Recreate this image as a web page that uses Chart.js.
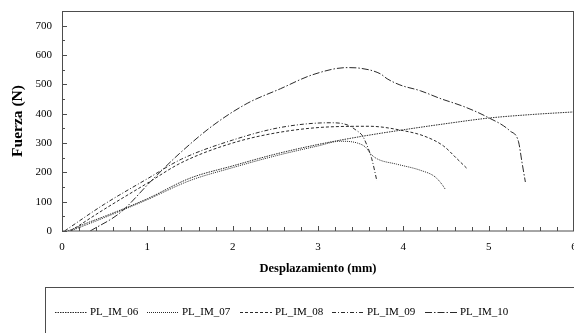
<!DOCTYPE html>
<html>
<head>
<meta charset="utf-8">
<script src="https://cdn.jsdelivr.net/npm/chart.js@4/dist/chart.umd.min.js"></script>
<style>
html,body{margin:0;padding:0;background:#fff;}
#wrap{width:574px;height:333px;position:relative;}
</style>
</head>
<body>
<div id="wrap"><canvas id="c" width="574" height="333"></canvas></div>
<script>
// ---- data ----
const seriesLabels = ["PL_IM_06", "PL_IM_07", "PL_IM_08", "PL_IM_09", "PL_IM_10"];

const x06 = [0.07, 0.3, 0.5, 1.0, 1.5, 2.0, 2.5, 3.0, 3.5, 4.0, 4.5, 5.0, 5.5, 6.0];
const y06 = [0, 28, 50, 110, 180, 222, 262, 295, 322, 345, 366, 385, 397, 406];

const x07 = [0.1, 0.5, 1.0, 1.5, 2.0, 2.5, 3.0, 3.26, 3.46, 3.56, 3.62, 3.7, 3.92, 4.2, 4.37, 4.45, 4.49];
const y07 = [0, 46, 107, 172, 216, 256, 290, 306, 300, 285, 262, 245, 228, 207, 185, 160, 143];

const x08 = [0.1, 0.5, 1.0, 1.4, 2.0, 2.56, 3.14, 3.6, 4.0, 4.25, 4.47, 4.63, 4.75];
const y08 = [0, 75, 163, 233, 300, 337, 355, 357, 342, 323, 290, 246, 212];

const x09 = [0.03, 0.5, 1.0, 1.4, 2.0, 2.56, 3.14, 3.34, 3.45, 3.52, 3.57, 3.63, 3.69];
const y09 = [0, 92, 178, 245, 310, 353, 369, 362, 343, 325, 295, 246, 171];

const x10 = [0.33, 0.68, 1.05, 1.38, 1.77, 2.17, 2.56, 2.94, 3.34, 3.49, 3.73, 3.81, 3.96, 4.2, 4.43, 4.72, 4.98, 5.25, 5.35, 5.39, 5.43];
const y10 = [0, 62, 172, 265, 360, 435, 485, 533, 557, 555, 536, 519, 498, 478, 452, 423, 389, 341, 304, 235, 167];

const xTicks = [0, 1, 2, 3, 4, 5, 6];
const yTicks = [0, 100, 200, 300, 400, 500, 600, 700];

const xTitle = "Desplazamiento (mm)";
const yTitle = "Fuerza (N)";

// ---- build ----
const seriesX = [x06, x07, x08, x09, x10];
const seriesY = [y06, y07, y08, y09, y10];
const dashes = [[1.5, 1], [1, 1], [3, 2], [4, 2, 1, 2], [7, 2, 1.5, 2]];

const datasets = seriesLabels.map((lab, i) => ({
  label: lab,
  data: seriesX[i].map((xv, j) => ({x: xv, y: seriesY[i][j]})),
  showLine: true,
  borderColor: '#2a2a2a',
  backgroundColor: 'transparent',
  borderWidth: 1,
  borderDash: dashes[i],
  pointRadius: 0,
  cubicInterpolationMode: 'monotone',
  fill: false
}));

const SERIF = "'Liberation Serif', 'Times New Roman', serif";

const framePlugin = {
  id: 'frame',
  afterDraw(chart) {
    const {ctx, chartArea: a, scales: {x, y}} = chart;
    ctx.save();
    ctx.strokeStyle = '#4d4d4d';
    ctx.lineWidth = 1;
    ctx.setLineDash([]);
    ctx.strokeRect(a.left + 0.5, a.top + 0.5, a.right - a.left - 1, a.bottom - a.top - 0.5);
    // inward ticks
    ctx.beginPath();
    for (let k = 0; k <= 30; k++) {
      const v = k * 0.2;
      const px = Math.round(x.getPixelForValue(v)) + 0.5;
      const len = (k % 5 === 0) ? 5 : 4;
      ctx.moveTo(px, a.bottom);
      ctx.lineTo(px, a.bottom - len);
    }
    for (let k = 0; k <= 15; k++) {
      const v = k * 50;
      const py = Math.round(y.getPixelForValue(v)) + 0.5;
      const len = (k % 2 === 0) ? 5 : 3;
      ctx.moveTo(a.left, py);
      ctx.lineTo(a.left + len, py);
    }
    ctx.stroke();
    // legend
    ctx.strokeRect(45.5, 287.5, 600, 100);
    const starts = [55, 147, 240, 332, 425];
    ctx.font = "11px " + SERIF;
    ctx.fillStyle = '#000';
    ctx.textBaseline = 'middle';
    chart.data.datasets.forEach((ds, i) => {
      const lx = starts[i];
      const ly = 312.5;
      ctx.strokeStyle = ds.borderColor;
      ctx.lineWidth = ds.borderWidth;
      ctx.setLineDash(ds.borderDash);
      ctx.beginPath();
      ctx.moveTo(lx, ly);
      ctx.lineTo(lx + 32, ly);
      ctx.stroke();
      ctx.setLineDash([]);
      ctx.fillText(ds.label, lx + 35, ly);
    });
    ctx.restore();
  }
};

new Chart(document.getElementById('c'), {
  type: 'scatter',
  data: {datasets},
  options: {
    responsive: false,
    animation: false,
    devicePixelRatio: 1,
    layout: {autoPadding: false, padding: {top: 11, right: 0, left: 0, bottom: 54}},
    plugins: {legend: {display: false}, tooltip: {enabled: false}},
    scales: {
      x: {
        type: 'linear', min: 0, max: 6,
        afterFit(s) { s.height = 48; s.paddingLeft = 0; s.paddingRight = 0; },
        afterBuildTicks(s) { s.ticks = xTicks.map(v => ({value: v})); },
        grid: {display: false, drawTicks: false},
        border: {display: false},
        ticks: {padding: 10, color: '#000', font: {family: SERIF, size: 11}, maxRotation: 0, autoSkip: false},
        title: {display: true, text: xTitle, color: '#000', font: {family: SERIF, size: 12.5, weight: 'bold'}, padding: {top: 0, bottom: 3}}
      },
      y: {
        type: 'linear', min: 0, max: 750,
        afterFit(s) { s.width = 62; s.paddingTop = 0; s.paddingBottom = 0; },
        afterBuildTicks(s) { s.ticks = yTicks.map(v => ({value: v})); },
        grid: {display: false, drawTicks: false},
        border: {display: false},
        ticks: {padding: 10, color: '#000', font: {family: SERIF, size: 11}, autoSkip: false},
        title: {display: true, text: yTitle, color: '#000', font: {family: SERIF, size: 15.5, weight: 'bold'}, padding: {top: 9, bottom: 0}}
      }
    }
  },
  plugins: [framePlugin]
});
</script>
</body>
</html>
